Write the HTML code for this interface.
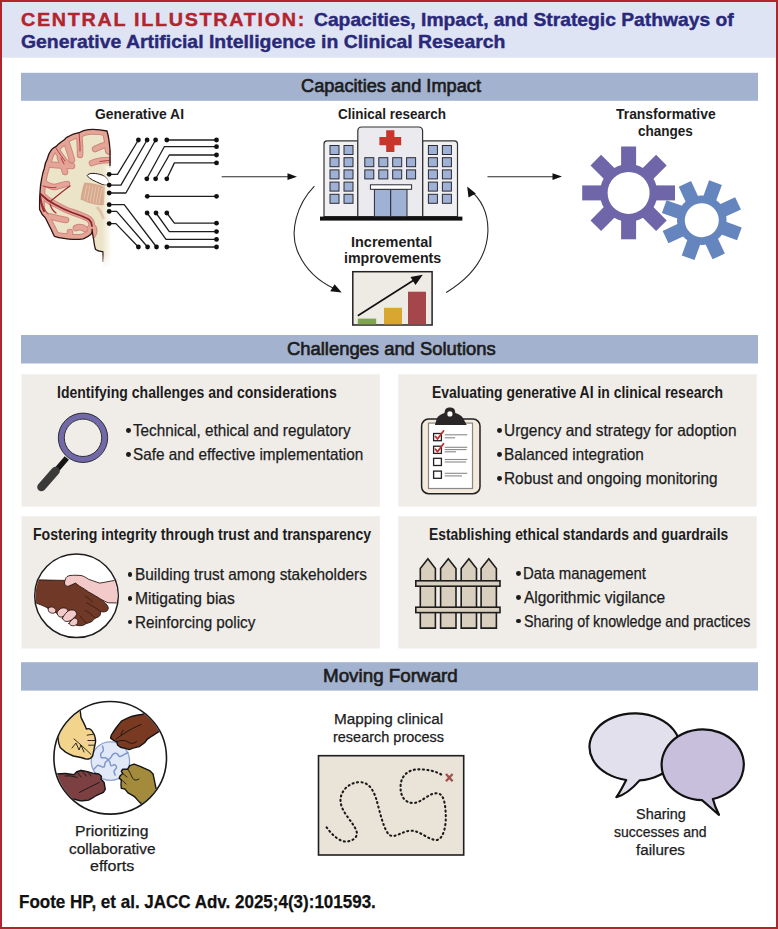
<!DOCTYPE html>
<html><head><meta charset="utf-8"><title>Central Illustration</title>
<style>
html,body{margin:0;padding:0;background:#fff;}
#page{position:relative;width:778px;height:929px;overflow:hidden;background:#fff;font-family:"Liberation Sans",sans-serif;}
.t{position:absolute;white-space:nowrap;line-height:normal;transform-origin:0 0;}
.b{position:absolute;width:4.8px;height:4.8px;border-radius:50%;background:#1c1c1c;}
svg.g{position:absolute;left:0;top:0;}

</style></head>
<body>
<div id="page">
<svg class="g" width="778" height="929" viewBox="0 0 778 929">
<!-- frame -->
<rect x="2" y="2" width="774" height="55.7" fill="#dfe4f4"/>
<rect x="1" y="1" width="776" height="927" fill="none" stroke="#b0252c" stroke-width="2"/>
<!-- bars -->
<rect x="21" y="72.8" width="737" height="28" fill="#a3b2cf"/>
<rect x="21" y="335" width="737" height="28.5" fill="#a3b2cf"/>
<rect x="21" y="662.2" width="737" height="28.4" fill="#a3b2cf"/>
<!-- boxes -->
<g fill="#f0ede9">
<rect x="21.5" y="374.3" width="358.4" height="132.3"/>
<rect x="398.2" y="374.3" width="358.5" height="132.3"/>
<rect x="21.5" y="516.2" width="358.4" height="132.3"/>
<rect x="398.2" y="516.2" width="358.5" height="132.3"/>
</g>

<!-- ===== BRAIN ===== -->
<g id="brain">
<defs>
<linearGradient id="fadeR" x1="0" x2="1" y1="0" y2="0">
<stop offset="0" stop-color="#fff" stop-opacity="0"/>
<stop offset="1" stop-color="#fff" stop-opacity="1"/>
</linearGradient>
<linearGradient id="fadeB" x1="0" x2="0" y1="0" y2="1">
<stop offset="0" stop-color="#fff" stop-opacity="0"/>
<stop offset="1" stop-color="#fff" stop-opacity="1"/>
</linearGradient>
<clipPath id="bclip"><path id="bsil" d="M107,131 C100,129.5 93,129.2 88.5,129.6 C84,130 81,131.5 79,132.7 C75,133.5 71,135 68.9,136.3 C66,137.5 65,138.5 64.8,139.4 C61,142 58,144 56.6,146.1 C54,147.5 52.5,148.5 51.5,149.7 C49,153 48,156 47.3,158.9 C45.5,162 44.8,165 44.3,168.2 C43,172 42.2,175 41.7,178.5 C40.8,183 40.3,187 40.1,190.8 C39.6,197 39.5,204 39.6,209.5 C41,213 43,216 45.3,217.8 C47,221 48.8,225 50.4,228 C52,231 53,234 54.5,236.3 C57.5,237.5 60,238 63.8,238.3 C67,239 71,239.5 74,239.4 C77.5,239.5 80.5,239.2 83.3,238.8 C86.5,237.5 89,236 91,234.2 C92.2,232.5 92.4,230.5 92,229 C92.5,233 93,237 93.6,239.4 C94.2,244 94.8,248 95.7,249.6 C98,251.5 101,251.5 102.9,251.7 L103,268 L111,268 L111,150 L110,150 C109.5,143 108.5,136 107,131 Z"/></clipPath>
</defs>
<path d="M107,131 C100,129.5 93,129.2 88.5,129.6 C84,130 81,131.5 79,132.7 C75,133.5 71,135 68.9,136.3 C66,137.5 65,138.5 64.8,139.4 C61,142 58,144 56.6,146.1 C54,147.5 52.5,148.5 51.5,149.7 C49,153 48,156 47.3,158.9 C45.5,162 44.8,165 44.3,168.2 C43,172 42.2,175 41.7,178.5 C40.8,183 40.3,187 40.1,190.8 C39.6,197 39.5,204 39.6,209.5 C41,213 43,216 45.3,217.8 C47,221 48.8,225 50.4,228 C52,231 53,234 54.5,236.3 C57.5,237.5 60,238 63.8,238.3 C67,239 71,239.5 74,239.4 C77.5,239.5 80.5,239.2 83.3,238.8 C86.5,237.5 89,236 91,234.2 C92.2,232.5 92.4,230.5 92,229 C92.5,233 93,237 93.6,239.4 C94.2,244 94.8,248 95.7,249.6 C98,251.5 101,251.5 102.9,251.7 L103,268 L111,268 L111,150 L110,150 C109.5,143 108.5,136 107,131 Z" fill="#ece4c8"/>
<defs>
<path id="obd" d="M110,150 C109.5,143 108.5,136 107,131 C100,129.5 93,129.2 88.5,129.6 C84,130 81,131.5 79,132.7 C75,133.5 71,135 68.9,136.3 C66,137.5 65,138.5 64.8,139.4 C61,142 58,144 56.6,146.1 C54,147.5 52.5,148.5 51.5,149.7 C49,153 48,156 47.3,158.9 C45.5,162 44.8,165 44.3,168.2 C43,172 42.2,175 41.7,178.5 C40.8,183 40.3,187 40.1,190.8 C39.6,197 39.5,204 39.6,209.5 C41,213 43,216 45.3,217.8 C47,221 48.8,225 50.4,228 C52,231 53,234 54.5,236.3 C57.5,237.5 60,238 63.8,238.3 C67,239 71,239.5 74,239.4 C77.5,239.5 80.5,239.2 83.3,238.8 C86.5,237.5 89,236 91,234.2 C92.2,232.5 92.4,230.5 92,229"/>
<g id="suld">
<path d="M79,132 C79.5,140 80.5,148 80,155"/>
<path d="M65,139 C68,146 70,153 72,160"/>
<path d="M55,147 C59,154 63,160 68,165"/>
<path d="M45,164 C54,165 63,166 72,166"/>
<path d="M109,160 C103,160 97,161 92,163"/>
<path d="M109,144 C104,145 99,147 95,149"/>
<path d="M42,182 C47,185 51,187 55,187 C60,186 64,184 67,184"/>
<path d="M40,193 C45,198 50,202 55,204 C62,208 68,211 72,212 C78,214 84,216 89,219 C91,221 92,223 92,226"/>
<path d="M47,216 C53,217 60,219 66,220"/>
<path d="M69,239 C69.5,236 70,234 70,232"/>
<path d="M76,228 C79,226.5 82,227 85,229"/>
<path d="M60,158 C62,163 64,168 65,172"/>
</g>
</defs>
<g clip-path="url(#bclip)" fill="none" stroke-linecap="round" stroke-linejoin="round">
<use href="#obd" stroke="#cf867f" stroke-width="10.6"/>
<use href="#suld" stroke="#cf867f" stroke-width="6.6"/>
<use href="#obd" stroke="#e4a596" stroke-width="8.6"/>
<use href="#suld" stroke="#e4a596" stroke-width="4.6"/>
<g stroke="#a8303a" stroke-width="0.9">
<path d="M79,133 C79.5,140 80.3,146 80,151"/>
<path d="M56,148 C59,153 62,157 65,161"/>
<path d="M100,161.5 C104,161 107,160.5 109,160.5"/>
<path d="M40.5,194 C45,198.5 50,202 55,204.5 C62,208.5 68,211 72,212.5 C78,214.5 84,216.5 89,219.5 C91,221.5 92,223 92,226" stroke="#8e2430" stroke-width="1.8"/>
<path d="M40,196 C41,202 42,207 44,211" stroke="#9a2a35" stroke-width="2"/>
<path d="M50,204 C51,208 53,211 56,213" stroke="#a8303a" stroke-width="1.2"/>
<path d="M41,202 C44,208 46,212 48,214"/>
<path d="M43,186 C48,187.5 52,188 56,187.5"/>
<path d="M61,158 C62,160 63,162 64,164"/>
<path d="M70,186 C64,190 57,196 51,201" stroke="#9a2a35" stroke-width="1.3"/>
</g>
</g>
<!-- outline -->
<path d="M110,168 C110,160 110,155 110,150 C109.5,143 108.5,136 107,131 C100,129.5 93,129.2 88.5,129.6 C84,130 81,131.5 79,132.7 C75,133.5 71,135 68.9,136.3 C66,137.5 65,138.5 64.8,139.4 C61,142 58,144 56.6,146.1 C54,147.5 52.5,148.5 51.5,149.7 C49,153 48,156 47.3,158.9 C45.5,162 44.8,165 44.3,168.2 C43,172 42.2,175 41.7,178.5 C40.8,183 40.3,187 40.1,190.8 C39.6,197 39.5,204 39.6,209.5 C41,213 43,216 45.3,217.8 C47,221 48.8,225 50.4,228 C52,231 53,234 54.5,236.3 C57.5,237.5 60,238 63.8,238.3 C67,239 71,239.5 74,239.4 C77.5,239.5 80.5,239.2 83.3,238.8 C86.5,237.5 89,236 91,234.2 C92.2,232.5 92.4,230.5 92,229 C92.5,233 93,237 93.6,239.4 C94.2,244 94.8,248 95.7,249.6 C98,251.5 101,251.5 102.9,251.7 C103.2,255 103,258 102.9,262" fill="none" stroke="#2e1515" stroke-width="1.3"/>
<!-- basal ganglia -->
<path d="M84.5,182.5 C91,183 99,184.5 105,187 L104,205 C97,206 88,203 80.5,199.5 C81,194 82.5,187 84.5,182.5 Z" fill="#d6a88c"/>
<g stroke="#efd6c4" stroke-width="0.8" opacity="0.8">
<path d="M87,185 L84,199"/><path d="M90,185.5 L87,201"/><path d="M93,186 L90,202"/><path d="M96,186.5 L93,203"/><path d="M99,187 L96,203.5"/><path d="M102,188 L99,204"/>
</g>
<path d="M97,207 C100,210 102,214 104,219" stroke="#dcb49c" stroke-width="3" fill="none" opacity="0.7"/>
<!-- ventricle -->
<path d="M87,175.5 C89,172.5 96,173 102,175 C106,176.5 108.5,179 108.8,183 C108,185.5 104,185.5 100,183.5 C95,181 90,179.5 87,175.5 Z" fill="#fff" stroke="#2a1a1a" stroke-width="1"/>
<!-- fade right & bottom -->
<rect x="102" y="166" width="10" height="104" fill="url(#fadeR)"/>
<rect x="88" y="254" width="30" height="14" fill="url(#fadeB)"/>
</g>

<!-- ===== CIRCUIT ===== -->
<g fill="none" stroke="#1e1e1e" stroke-width="1.3" stroke-linejoin="round">
<path d="M109.2,174.3 H117.5 L138.4,140"/>
<path d="M109.2,185.1 H120.9 L147.1,140"/>
<path d="M109.2,193 H125.9 L155.6,140"/>
<path d="M166.8,140 H216.5"/>
<path d="M146.8,178.8 L164.3,146.7 H216.5"/>
<path d="M155.6,178.8 L169.3,155 H216.5"/>
<path d="M166.8,178.8 L174.4,162.9 H216.5"/>
<path d="M147.3,196.3 H216.5"/>
<path d="M166.8,213 L174.4,223.2 H216.5"/>
<path d="M156,213 L169.3,231.6 H216.5"/>
<path d="M147.1,213 L166,239.4 H216.5"/>
<path d="M109.2,204.7 H124.2 L156.5,247"/>
<path d="M109.2,211.4 H116.7 L147.6,247"/>
<path d="M109.2,223.6 H115.9 L138.4,247"/>
<path d="M166.8,247 H216.5"/>
</g>
<g fill="#111">
<circle cx="109.2" cy="174.3" r="2.4"/><circle cx="109.2" cy="185.1" r="2.4"/><circle cx="109.2" cy="193" r="2.4"/>
<circle cx="109.2" cy="204.7" r="2.4"/><circle cx="109.2" cy="211.4" r="2.4"/><circle cx="109.2" cy="223.6" r="2.4"/>
<circle cx="138.4" cy="140" r="2.4"/><circle cx="147.1" cy="140" r="2.4"/><circle cx="155.6" cy="140" r="2.4"/><circle cx="166.8" cy="140" r="2.4"/>
<circle cx="146.8" cy="178.8" r="2.4"/><circle cx="155.6" cy="178.8" r="2.4"/><circle cx="166.8" cy="178.8" r="2.4"/>
<circle cx="147.3" cy="196.3" r="2.4"/>
<circle cx="147.1" cy="213" r="2.4"/><circle cx="156" cy="213" r="2.4"/><circle cx="166.8" cy="213" r="2.4"/>
<circle cx="138.4" cy="247" r="2.4"/><circle cx="147.6" cy="247" r="2.4"/><circle cx="156.5" cy="247" r="2.4"/><circle cx="166.8" cy="247" r="2.4"/>
<circle cx="216.5" cy="140" r="2.4"/><circle cx="216.5" cy="146.7" r="2.4"/><circle cx="216.5" cy="155" r="2.4"/><circle cx="216.5" cy="162.9" r="2.4"/>
<circle cx="216.5" cy="196.3" r="2.4"/>
<circle cx="216.5" cy="223.2" r="2.4"/><circle cx="216.5" cy="231.6" r="2.4"/><circle cx="216.5" cy="239.4" r="2.4"/><circle cx="216.5" cy="247" r="2.4"/>
</g>

<!-- ===== ARROWS ===== -->
<g stroke="#2a2a2a" stroke-width="1.1" fill="none">
<path d="M221.7,176.7 H289"/>
<path d="M487.5,176.7 H554"/>
<path d="M314.4,186.1 C296,205 290,232 297,250 C305,270 320,282 334,288.5"/>
<path d="M446.2,292.5 C470,278 487,258 487.9,231.6 C488.5,212 480,198 470.5,191"/>
</g>
<g fill="#111">
<path d="M297,176.7 L287.5,173.3 L287.5,180.1 Z"/>
<path d="M562,176.6 L552.5,173.2 L552.5,180 Z"/>
<path d="M341.7,292.5 L330.2,291.3 L334.6,284.2 Z"/>
<path d="M467.2,186.5 L475.8,193.4 L468.5,197.4 Z"/>
</g>

<!-- ===== HOSPITAL ===== -->
<g stroke="#333" stroke-width="1.2">
<path d="M324,216.6 V144 Q324,140.9 327,140.9 H357.8 V216.6 Z" fill="#f0f0f2"/>
<path d="M422.6,216.6 V140.9 H454.5 Q457.5,140.9 457.5,144 V216.6 Z" fill="#f0f0f2"/>
<path d="M357.8,216.6 V131 Q357.8,127 361.8,127 H418.6 Q422.6,127 422.6,131 V216.6 Z" fill="#ebebef"/>
</g>
<rect x="320" y="216.6" width="142.4" height="4" fill="#111"/>
<path d="M386.2,130.2 H394.4 V137 H401.2 V145.2 H394.4 V152 H386.2 V145.2 H379.4 V137 H386.2 Z" fill="#c8352b"/>
<g fill="#9fb2d6" stroke="#2a2a33" stroke-width="1">
<rect x="330" y="145.5" width="9" height="9"/><rect x="344" y="145.5" width="9" height="9"/>
<rect x="330" y="157.7" width="9" height="9"/><rect x="344" y="157.7" width="9" height="9"/>
<rect x="330" y="169.9" width="9" height="9"/><rect x="344" y="169.9" width="9" height="9"/>
<rect x="330" y="182.1" width="9" height="9"/><rect x="344" y="182.1" width="9" height="9"/>
<rect x="330" y="194.3" width="9" height="9"/><rect x="344" y="194.3" width="9" height="9"/>
<rect x="428.4" y="145.5" width="9" height="9"/><rect x="442.4" y="145.5" width="9" height="9"/>
<rect x="428.4" y="157.7" width="9" height="9"/><rect x="442.4" y="157.7" width="9" height="9"/>
<rect x="428.4" y="169.9" width="9" height="9"/><rect x="442.4" y="169.9" width="9" height="9"/>
<rect x="428.4" y="182.1" width="9" height="9"/><rect x="442.4" y="182.1" width="9" height="9"/>
<rect x="428.4" y="194.3" width="9" height="9"/><rect x="442.4" y="194.3" width="9" height="9"/>
<rect x="364.8" y="157.7" width="9" height="9"/><rect x="378.8" y="157.7" width="9" height="9"/><rect x="392.7" y="157.7" width="9" height="9"/><rect x="406.6" y="157.7" width="9" height="9"/>
<rect x="364.8" y="169.9" width="9" height="9"/><rect x="378.8" y="169.9" width="9" height="9"/><rect x="392.7" y="169.9" width="9" height="9"/><rect x="406.6" y="169.9" width="9" height="9"/>
<rect x="374.4" y="189.3" width="16.3" height="27.3"/><rect x="390.7" y="189.3" width="16.3" height="27.3"/>
</g>
<rect x="370.4" y="184.8" width="41.2" height="4.5" fill="#fff" stroke="#2a2a33" stroke-width="1"/>

<!-- ===== CHART ===== -->
<rect x="352.8" y="271.7" width="79.3" height="53.3" fill="#eeebe5" stroke="#222" stroke-width="1.5"/>
<rect x="357.8" y="318.6" width="18.4" height="5.7" fill="#7fa64f"/>
<rect x="384" y="307.8" width="18" height="16.5" fill="#d8a631"/>
<rect x="408" y="291.7" width="18" height="32.6" fill="#a5464a"/>
<path d="M357.8,315.7 L414,280" stroke="#111" stroke-width="1.6" fill="none"/>
<path d="M422.8,274.7 L410.5,277 L415.5,285 Z" fill="#111"/>

<!-- ===== GEARS ===== -->
<g fill="#6f66aa" transform="translate(628.6,192.9)">
<circle r="28.8"/>
<g id="tp"><rect x="-7.5" y="-46.4" width="15" height="22"/></g>
<use href="#tp" transform="rotate(45)"/><use href="#tp" transform="rotate(90)"/><use href="#tp" transform="rotate(135)"/>
<use href="#tp" transform="rotate(180)"/><use href="#tp" transform="rotate(225)"/><use href="#tp" transform="rotate(270)"/><use href="#tp" transform="rotate(315)"/>
<circle r="21" fill="#fff"/>
</g>
<g fill="#6585bf" transform="translate(701.8,220.2) rotate(20)">
<circle r="24.8"/>
<g id="tb"><rect x="-6.8" y="-40" width="13.6" height="18"/></g>
<use href="#tb" transform="rotate(45)"/><use href="#tb" transform="rotate(90)"/><use href="#tb" transform="rotate(135)"/>
<use href="#tb" transform="rotate(180)"/><use href="#tb" transform="rotate(225)"/><use href="#tb" transform="rotate(270)"/><use href="#tb" transform="rotate(315)"/>
<circle r="17" fill="#fff"/>
</g>

<!-- ===== MAGNIFIER ===== -->
<path d="M66.8,458 L54.8,472" stroke="#151515" stroke-width="5.6"/>
<path d="M55.5,471 L41.5,487" stroke="#3a3a3a" stroke-width="8.6" stroke-linecap="round"/>
<circle cx="83" cy="437.8" r="21.7" fill="none" stroke="#7269a9" stroke-width="6"/>
<circle cx="83" cy="437.8" r="24.7" fill="none" stroke="#222" stroke-width="0.9"/>
<circle cx="83" cy="437.8" r="18.7" fill="none" stroke="#222" stroke-width="0.9"/>

<!-- ===== CLIPBOARD ===== -->
<rect x="421.6" y="419.1" width="58.4" height="74.6" rx="7" fill="#f3e9dd" stroke="#222" stroke-width="1.5"/>
<rect x="428.5" y="423.1" width="44" height="65.4" fill="#fff" stroke="#888" stroke-width="1.2"/>
<path d="M434.9,424.9 L437,418 C439,415 442,414 444.5,413 C445,408 447,407.5 449.9,407.5 C452.8,407.5 455,408 455.3,413 C458,414 461,415 463,418 L466.7,424.9 Z" fill="#2a2526"/>
<circle cx="449.9" cy="413.9" r="2.6" fill="#fff"/>
<g fill="none" stroke="#222" stroke-width="1.3">
<rect x="433.6" y="433.5" width="7.8" height="7.2"/><rect x="433.6" y="446.2" width="7.8" height="7.2"/>
<rect x="433.6" y="458.3" width="7.8" height="7.2"/><rect x="433.6" y="471.1" width="7.8" height="7.2"/>
</g>
<g fill="none" stroke="#c0302f" stroke-width="1.8" stroke-linecap="round" stroke-linejoin="round">
<path d="M435.5,436.5 L437.5,439 L443.5,431"/>
<path d="M435.5,449.2 L437.5,451.7 L443.5,443.7"/>
</g>
<g stroke="#8a8a8a" stroke-width="1.1">
<path d="M444.7,434.8 H467.3"/><path d="M444.7,437.8 H455"/>
<path d="M444.7,447.3 H467.3"/><path d="M444.7,449.6 H466.5"/><path d="M444.7,451.8 H456"/>
<path d="M444.7,459.5 H467.3"/><path d="M444.7,462 H466"/>
<path d="M444.7,473.3 H467.3"/><path d="M444.7,475.9 H462"/>
</g>

<!-- ===== HANDSHAKE ===== -->
<clipPath id="hsclip"><circle cx="76.5" cy="595.8" r="41"/></clipPath>
<circle cx="76.5" cy="595.8" r="41.8" fill="#fff" stroke="#1e1e1e" stroke-width="1.5"/>
<g clip-path="url(#hsclip)" stroke="#2a1712" stroke-width="0.9" stroke-linejoin="round" stroke-linecap="round">
<path d="M30,579.8 L35.1,579.8 C45,580 55,580.3 64.6,580.4 C68,579.5 74,579.5 78,581 C79,583 79.5,585 79.9,586.4 C83,588 86,590 88.6,591.9 C92,594 96,596 99.6,598.4 C102,600 104.5,602 106.1,603.9 C107.5,605.5 108.3,607 108.3,608.2 C108,610 107,611 106.1,611.5 C104,612 102,612 100.6,611.5 C100.5,613.5 100.5,615 99.6,615.9 C98.5,617 97,617.8 95.2,618.1 C94,619.5 93,620.5 91.9,621.4 C90,622.5 88,623.2 86.4,623.5 C84.5,624.8 83,625.5 81,625.7 C79.5,625.8 78,625.6 76.6,625.2 L60,615 L48.2,608.2 C44,606 39,604 35.1,602.8 L30,602.5 Z" fill="#6f3827"/>
<path d="M120,580 L114.8,580.4 C108,581.5 104,582.5 99.6,583.1 C95,581.5 92,580.5 88.6,579.3 C86,577.5 83.5,576 81,575.5 C77,575.2 73,575.2 70,575.5 C67.5,576 66,577 65.7,578.7 C64.8,580.5 64.3,582.5 64.6,584.2 C65.5,585.5 66.5,586.2 67.9,586.4 C70.5,585.5 73,584 75.5,583.1 C77,584 78.5,585.5 79.9,586.4 C83,588 86,590 88.6,591.9 C92,594 96,596 99.6,598.4 C103,600.5 106,602 108.3,602.8 L120,603 Z" fill="#f3caca"/>
<g fill="none" stroke="#3a1a10" stroke-width="0.8">
<path d="M100.6,611.5 C96,608 91,605 86.4,602.8"/>
<path d="M95.2,618.1 C92,615 89,612.5 85.4,610.4"/>
<path d="M86.4,623.5 C84,620.5 82,618 79.9,615.9"/>
<path d="M85.4,596.2 C88,598 91,600 93,602"/>
</g>
<g fill="#f3caca">
<path d="M48.2,608.2 C49.5,607 51,606.8 52.6,607.1 C54.5,607.8 55.8,609 55.9,610.4 C55.5,612 54.7,613 53.7,613.2 C52,613.3 50.5,613 49.3,612.1 C48.3,611 47.9,609.5 48.2,608.2 Z"/>
<path d="M56.9,612.6 C58,610.5 59.5,609 61.3,608.2 C63,607.8 64.5,607.8 65.7,608.2 C67.2,609 68,610 67.9,611.5 C67,613.5 66,615 64.6,615.9 C63,616.8 61.5,617.2 60.2,617 C58.5,616.5 57.2,615 56.9,612.6 Z"/>
<path d="M62.4,618.1 C64,615 66.5,612 69,610.4 C71,609.8 73,609.8 74.4,610.4 C76,611.5 76.8,613 76.6,614.8 C75,617 73,619 71.1,620.3 C69,621.3 67,621.7 65.7,621.4 C64,620.8 62.8,619.6 62.4,618.1 Z"/>
<path d="M69,623.5 C70.5,621 72.5,619 74.4,618.1 C75.8,618 77,618.8 77.7,620.3 C78,622 77.6,623.6 76.6,624.6 C75.3,625.5 73.7,625.9 72.2,625.7 C70.7,625.4 69.5,624.6 69,623.5 Z"/>
</g>
</g>
<!-- ===== FENCE ===== -->
<g fill="#d9cfbf" stroke="#1e1e1e" stroke-width="1.6" stroke-linejoin="miter">
<path d="M420.3,628.1 V568.6 L427.9,558.7 L435.4,568.6 V628.1 Z"/>
<path d="M440.6,628.1 V568.6 L448.3,558.7 L456,568.6 V628.1 Z"/>
<path d="M461.2,628.1 V568.6 L468.9,558.7 L476.5,568.6 V628.1 Z"/>
<path d="M481.1,628.1 V568.6 L488.8,558.7 L496.4,568.6 V628.1 Z"/>
<rect x="415.8" y="580.8" width="84.2" height="5.4"/>
<rect x="415.8" y="607.2" width="84.2" height="5.4"/>
</g>

<!-- ===== COLLAB HANDS ===== -->
<clipPath id="chclip"><circle cx="110.2" cy="757.8" r="55.6"/></clipPath>
<circle cx="110.2" cy="757.8" r="56.3" fill="#fff"/>
<circle cx="110.4" cy="761.1" r="19.2" fill="#e1e8f7" stroke="#8ea3d3" stroke-width="1.3"/>
<g fill="none" stroke="#7f97cc" stroke-width="1.5" stroke-linecap="round" stroke-linejoin="round">
<path d="M102.5,746.1 C103.5,748 103.5,750 103,751.3 C101.5,752.3 100.5,753 100.7,754.2 C100.6,756 100.8,757.4 101.3,757.7 C103,758 104.5,757.5 105.4,757.7 C106.5,758.3 107.5,759.2 108.2,760"/>
<path d="M108.2,760 C109.5,759 110.5,758 111.1,757.1 C112,755.8 112.3,754.8 112.9,754.2 C114.5,753.3 116,753.2 116.9,753.6 C118.2,754.5 118.5,756 119.2,756.5 C120.5,756.6 121.8,756 122.7,755.4 C124.5,754.4 126.5,753.4 127.9,752.5"/>
<path d="M108.2,760 C109,760.8 109.7,761.5 110,762.3 C110.2,764 110.4,765.3 111.1,765.8 C112.4,766 113.7,764.5 114.6,764.6 C116,765.5 116.8,767 116.3,768.1 C115.4,769.3 114,770.3 114,771.5 C114.3,773 114.9,774 115.2,775"/>
<path d="M108.2,760 C107.3,760.8 106.2,761.5 105.4,762.3 C104.6,763.8 104.8,765.8 104.2,766.9 C102.8,767.4 101.7,766.6 100.7,766.3 C99.5,765.6 98.6,765 97.8,765.2 C96.3,766.5 95,768 93.8,769.2"/>
</g>
<g clip-path="url(#chclip)" stroke="#151515" stroke-width="1.4" stroke-linejoin="round" stroke-linecap="round">
<!-- yellow -->
<path d="M80.2,705 L80.2,710.5 C80.5,713 80.8,715.5 81,717.4 C82,719.5 83,721.5 84.1,723.6 C85,725.5 85.8,727.3 86.4,729 C87.2,728.7 88,728.5 88.7,728.6 C89.6,728.9 90.4,729.3 91,729.8 C91.9,730.6 92.7,731.7 93.3,732.8 C94,734 94.6,735.3 94.9,736.7 C95.3,738.2 95.6,739.8 95.6,741.3 C95.5,742.6 95.2,744 94.9,745.2 C94.6,746.5 94.3,747.8 94.1,749 C93.9,750.3 93.6,751.6 93.3,752.9 C93.1,754 92.9,755 92.6,756 C91.9,757 91.1,757.8 90.2,758.3 C89,758.9 87.7,759.1 86.4,759.1 C84.6,758.7 82.8,758.1 81,757.5 C78.4,757 75.8,756.5 73.3,756 C70.7,754.8 68.1,753.5 65.6,752.1 C63.7,750.6 61.9,749.1 60.2,747.5 C59.3,745.2 58.6,742.9 58.2,740.5 C58.2,738.5 58.4,736.4 58.6,734.4 L50,734 L50,705 Z" fill="#f2d48c"/>
<g fill="none" stroke-width="0.9">
<path d="M74,739 C80,744 86,749.5 91,754.4"/>
<path d="M87.2,735.2 C89,734.8 91,734.5 92.6,734.4"/>
<path d="M87.9,740.5 C90,740.5 92.5,740.5 94.9,740.5"/>
<path d="M88.7,745.2 C90.5,745.2 92.5,745.2 94.5,745.2"/>
<path d="M72,748 L76,743 L79,750 L81,745 L84,752"/>
</g>
<!-- brown -->
<path d="M143,714.2 C141,714.5 138.8,714.9 136.8,715.3 C134.2,715.9 131.6,716.5 129.1,717.3 C126.5,718.5 123.9,719.8 121.4,721.1 C119.5,723.4 117.7,725.7 116,728 C114.4,730.3 112.9,732.6 111.4,735 C111.1,736 110.8,737 110.6,738.1 C111.6,738.9 112.7,739.7 113.7,740.4 C114.7,740.9 115.8,741.4 116.8,741.9 C117,743 117.3,744 117.6,745 C118.6,745.8 119.6,746.6 120.6,747.3 C121.9,747.6 123.2,747.8 124.5,748.1 C126,748.6 127.6,749.1 129.1,749.6 C130.4,749.1 131.7,748.6 133,748.1 C135.1,747.6 137.1,747.1 139.2,746.6 C141,745.3 142.8,744 144.6,742.7 C145.6,741.4 146.6,740.1 147.6,738.8 C149.2,737.8 150.7,736.8 152.3,735.8 C154.3,734.5 156.4,733.2 158.4,731.9 L170,730 L170,705 L150,705 Z" fill="#7a3a22"/>
<g fill="none" stroke-width="0.9">
<path d="M116,739 C122,735 128,730 141,724.5"/>
<path d="M117,741.5 C121,740 125,740 128,742 C131,744 134,744 137,741"/>
<path d="M121,735 C121.5,733 122,731.5 123.5,730"/>
</g>
<!-- maroon -->
<path d="M57.1,773.9 C59.9,773.7 62.8,773.6 65.6,773.5 C68.4,773.8 71.2,774.2 74,774.6 C75,773.6 76.1,772.6 77.1,771.6 C78.4,771.2 79.7,770.8 81,770.4 C83.1,770.8 85.1,771.2 87.2,771.6 C89,772.1 90.8,772.6 92.6,773.1 C94.6,773.4 96.7,773.6 98.7,773.9 C99.6,774.7 100.5,775.4 101.4,776.2 C101.3,777.2 101.1,778.3 101,779.3 C102,780.3 103.1,781.4 104.1,782.4 C104.5,784.7 104.9,787 105.3,789.3 C104.6,790.3 104,791.4 103.3,792.4 C101,793.4 98.7,794.5 96.4,795.5 C93.8,797 91.3,798.6 88.7,800.1 C86.1,800.4 83.6,800.6 81,800.9 C77.9,800.1 74.8,799.4 71.7,798.6 L50,805 L45,770 Z" fill="#7d4042"/>
<g fill="none" stroke-width="0.9">
<path d="M79.4,792.4 C86,789 93,785.5 99.5,782.4"/>
<path d="M77.1,771.6 C78,773 79,774.5 81,777"/>
<path d="M81,770.4 C83,772 84.5,773.5 86,776"/>
<path d="M87.2,771.6 C89,773 90,774.5 91,776"/>
<path d="M65,776 C69,775.5 73,776 77,777.5"/>
</g>
<!-- olive -->
<path d="M156,788.3 C155.1,783.6 154.1,778.8 153.1,774.1 C151.9,772.9 150.8,771.8 149.6,770.6 C147,769.4 144.4,768.3 141.8,767.1 C139.2,766.1 136.6,765.2 134,764.2 C132.6,764.7 131.2,765.2 129.8,765.7 C129.1,766.9 128.4,768 127.7,769.2 C126,769.2 124.4,769.2 122.7,769.2 C122.2,769.9 121.8,770.6 121.3,771.3 C121.8,772 122.2,772.7 122.7,773.4 C121.8,774.4 120.8,775.3 119.9,776.3 C119.7,777 119.4,777.7 119.2,778.4 C119.9,778.9 120.6,779.3 121.3,779.8 C121.2,781.4 121.1,783.1 121,784.7 C121.1,785.9 121.2,787.1 121.3,788.3 C122.5,788.5 123.6,788.8 124.8,789 C126,790.4 127.2,791.8 128.4,793.2 C129.3,793.7 130.3,794.1 131.2,794.6 C132.4,795.3 133.5,796.1 134.7,796.8 C136.4,798.7 138,800.5 139.7,802.4 C140.4,802.9 141.1,803.3 141.8,803.8 L160,810 L170,790 Z" fill="#a48b3c"/>
<g fill="none" stroke-width="0.9">
<path d="M127.7,769.2 C130,772 131,775 132.5,778 C133.5,780 136,781 139,779"/>
<path d="M122.7,773.4 C124,774.5 125.5,775.8 127,777"/>
<path d="M121.3,779.8 C123,781 124.5,782.2 126,784"/>
</g>
</g>
<circle cx="110.2" cy="757.8" r="56.3" fill="none" stroke="#1a1a1a" stroke-width="1.6"/>

<!-- ===== MAP ===== -->
<rect x="318.5" y="755.7" width="145.2" height="99.3" fill="#e9e3d8" stroke="#1e1e1e" stroke-width="1.6"/>
<path d="M326.6,827.3 C332,835 340,842 346.3,841.6 C354,841 358,836 356.7,831.9 C354,822 340,812 340.5,799.5 C341,790 350,782 360.2,782.1 C370,782.5 374,792 376.4,799.5 C380,812 384,832 390.2,835.4 C396,838 402,831 411,830.7 C420,830.5 428,840 436.5,840 C444,839 446,825 445.8,815.7 C445.5,805 444,795 438.8,793.7 C430,791 422,803 413.4,803 C404,803 400,795 400.6,785.6 C401,776 408,770 416.8,769.4 C426,769 436,771 442.3,775.2" fill="none" stroke="#1a1a1a" stroke-width="2.1" stroke-dasharray="1.1,3.4" stroke-linecap="round"/>
<path d="M446,774 L452.6,781.2 M452.6,774 L446,781.2" stroke="#a0504c" stroke-width="2.3" fill="none"/>

<!-- ===== SPEECH BUBBLES ===== -->
<path d="M626.2,780 C622.5,787 619.5,793 616.4,797.2 C625,795 633,788 639.6,780.4 A45.2,33.6 0 1 0 626.2,780 Z" fill="#e3e0ed" stroke="#111" stroke-width="2.2" stroke-linejoin="round"/>
<path d="M701.9,800.1 C708,805 713,810 719,814.8 C716,809 714,803.5 712.9,799 A41.1,35.4 0 1 0 701.9,800.1 Z" fill="#c8bfdc" stroke="#111" stroke-width="2.2" stroke-linejoin="round"/>
</svg>

<div class="t" style="left:20.80px;top:9.30px;font-size:18.31px;letter-spacing:1.559px;transform:scaleX(1.08);color:#b2252e;font-weight:700;-webkit-text-stroke:0.4px currentColor;">CENTRAL ILLUSTRATION:</div>
<div class="t" style="left:314.10px;top:10.30px;font-size:18.02px;transform:scaleX(1.0692);color:#29287a;font-weight:700;-webkit-text-stroke:0.4px currentColor;">Capacities, Impact, and Strategic Pathways of</div>
<div class="t" style="left:20.80px;top:31.20px;font-size:18.31px;transform:scaleX(1.0601);color:#29287a;font-weight:700;-webkit-text-stroke:0.4px currentColor;">Generative Artificial Intelligence in Clinical Research</div>
<div class="t" style="left:300.80px;top:74.90px;font-size:18.75px;transform:scaleX(0.9699);color:#1c1c1c;font-weight:400;-webkit-text-stroke:0.65px currentColor;">Capacities and Impact</div>
<div class="t" style="left:95.00px;top:106.40px;font-size:14.83px;transform:scaleX(0.9363);color:#1c1c1c;font-weight:700;">Generative AI</div>
<div class="t" style="left:337.60px;top:105.80px;font-size:14.83px;transform:scaleX(0.9095);color:#1c1c1c;font-weight:700;">Clinical research</div>
<div class="t" style="left:615.90px;top:104.70px;font-size:14.97px;transform:scaleX(0.9290);color:#1c1c1c;font-weight:700;">Transformative</div>
<div class="t" style="left:638.10px;top:122.40px;font-size:14.97px;transform:scaleX(0.9039);color:#1c1c1c;font-weight:700;">changes</div>
<div class="t" style="left:351.16px;top:232.50px;font-size:15.41px;transform:scaleX(0.9390);color:#1c1c1c;font-weight:700;">Incremental</div>
<div class="t" style="left:343.58px;top:249.40px;font-size:15.41px;transform:scaleX(0.9235);color:#1c1c1c;font-weight:700;">improvements</div>
<div class="t" style="left:287.00px;top:337.70px;font-size:18.9px;transform:scaleX(0.9738);color:#1c1c1c;font-weight:400;-webkit-text-stroke:0.65px currentColor;">Challenges and Solutions</div>
<div class="t" style="left:56.82px;top:383.90px;font-size:15.99px;transform:scaleX(0.8771);color:#1c1c1c;font-weight:700;">Identifying challenges and considerations</div>
<div class="t" style="left:133.40px;top:421.30px;font-size:16.72px;transform:scaleX(0.9119);color:#1c1c1c;font-weight:400;-webkit-text-stroke:0.25px currentColor;">Technical, ethical and regulatory</div>
<div class="t" style="left:133.40px;top:445.20px;font-size:16.72px;transform:scaleX(0.9158);color:#1c1c1c;font-weight:400;-webkit-text-stroke:0.25px currentColor;">Safe and effective implementation</div>
<div class="t" style="left:431.83px;top:384.00px;font-size:15.99px;transform:scaleX(0.8731);color:#1c1c1c;font-weight:700;">Evaluating generative AI in clinical research</div>
<div class="t" style="left:504.08px;top:420.90px;font-size:16.72px;transform:scaleX(0.9240);color:#1c1c1c;font-weight:400;-webkit-text-stroke:0.25px currentColor;">Urgency and strategy for adoption</div>
<div class="t" style="left:504.08px;top:445.10px;font-size:16.72px;transform:scaleX(0.9185);color:#1c1c1c;font-weight:400;-webkit-text-stroke:0.25px currentColor;">Balanced integration</div>
<div class="t" style="left:504.08px;top:469.20px;font-size:16.72px;transform:scaleX(0.9196);color:#1c1c1c;font-weight:400;-webkit-text-stroke:0.25px currentColor;">Robust and ongoing monitoring</div>
<div class="t" style="left:33.12px;top:526.00px;font-size:15.99px;transform:scaleX(0.8833);color:#1c1c1c;font-weight:700;">Fostering integrity through trust and transparency</div>
<div class="t" style="left:135.08px;top:565.20px;font-size:16.72px;transform:scaleX(0.9218);color:#1c1c1c;font-weight:400;-webkit-text-stroke:0.25px currentColor;">Building trust among stakeholders</div>
<div class="t" style="left:135.06px;top:589.20px;font-size:16.72px;transform:scaleX(0.9353);color:#1c1c1c;font-weight:400;-webkit-text-stroke:0.25px currentColor;">Mitigating bias</div>
<div class="t" style="left:135.09px;top:612.60px;font-size:16.72px;transform:scaleX(0.9127);color:#1c1c1c;font-weight:400;-webkit-text-stroke:0.25px currentColor;">Reinforcing policy</div>
<div class="t" style="left:428.73px;top:525.70px;font-size:15.99px;transform:scaleX(0.8661);color:#1c1c1c;font-weight:700;">Establishing ethical standards and guardrails</div>
<div class="t" style="left:523.11px;top:564.00px;font-size:16.72px;transform:scaleX(0.8949);color:#1c1c1c;font-weight:400;-webkit-text-stroke:0.25px currentColor;">Data management</div>
<div class="t" style="left:524.00px;top:588.00px;font-size:16.72px;transform:scaleX(0.9266);color:#1c1c1c;font-weight:400;-webkit-text-stroke:0.25px currentColor;">Algorithmic vigilance</div>
<div class="t" style="left:524.00px;top:611.60px;font-size:16.72px;transform:scaleX(0.8552);color:#1c1c1c;font-weight:400;-webkit-text-stroke:0.25px currentColor;">Sharing of knowledge and practices</div>
<div class="t" style="left:323.40px;top:664.70px;font-size:18.9px;transform:scaleX(0.9954);color:#1c1c1c;font-weight:400;-webkit-text-stroke:0.65px currentColor;">Moving Forward</div>
<div class="t" style="left:333.97px;top:711.20px;font-size:14.83px;transform:scaleX(1.0345);color:#1c1c1c;font-weight:400;-webkit-text-stroke:0.25px currentColor;">Mapping clinical</div>
<div class="t" style="left:333.40px;top:729.10px;font-size:14.83px;transform:scaleX(0.9760);color:#1c1c1c;font-weight:400;-webkit-text-stroke:0.25px currentColor;">research process</div>
<div class="t" style="left:75.24px;top:822.50px;font-size:14.83px;transform:scaleX(1.0608);color:#1c1c1c;font-weight:400;-webkit-text-stroke:0.25px currentColor;">Prioritizing</div>
<div class="t" style="left:69.20px;top:840.50px;font-size:14.83px;transform:scaleX(1.0385);color:#1c1c1c;font-weight:400;-webkit-text-stroke:0.25px currentColor;">collaborative</div>
<div class="t" style="left:90.40px;top:857.60px;font-size:14.83px;transform:scaleX(1.0809);color:#1c1c1c;font-weight:400;-webkit-text-stroke:0.25px currentColor;">efforts</div>
<div class="t" style="left:635.80px;top:806.40px;font-size:14.83px;transform:scaleX(0.9732);color:#1c1c1c;font-weight:400;-webkit-text-stroke:0.25px currentColor;">Sharing</div>
<div class="t" style="left:614.20px;top:824.20px;font-size:14.83px;transform:scaleX(0.9434);color:#1c1c1c;font-weight:400;-webkit-text-stroke:0.25px currentColor;">successes and</div>
<div class="t" style="left:636.40px;top:841.80px;font-size:14.83px;transform:scaleX(1.0235);color:#1c1c1c;font-weight:400;-webkit-text-stroke:0.25px currentColor;">failures</div>
<div class="t" style="left:18.85px;top:892.40px;font-size:17.88px;transform:scaleX(0.9519);color:#111111;font-weight:700;-webkit-text-stroke:0.25px currentColor;">Foote HP, et al. JACC Adv. 2025;4(3):101593.</div>
<div class="b" style="left:126.0px;top:428.4px"></div>
<div class="b" style="left:126.0px;top:452.3px"></div>
<div class="b" style="left:496.8px;top:428.0px"></div>
<div class="b" style="left:496.8px;top:452.2px"></div>
<div class="b" style="left:496.8px;top:476.3px"></div>
<div class="b" style="left:127.6px;top:572.3px"></div>
<div class="b" style="left:127.6px;top:596.3px"></div>
<div class="b" style="left:127.6px;top:619.7px"></div>
<div class="b" style="left:516.0px;top:571.1px"></div>
<div class="b" style="left:516.0px;top:595.1px"></div>
<div class="b" style="left:516.0px;top:618.7px"></div>
</div>
</body></html>
